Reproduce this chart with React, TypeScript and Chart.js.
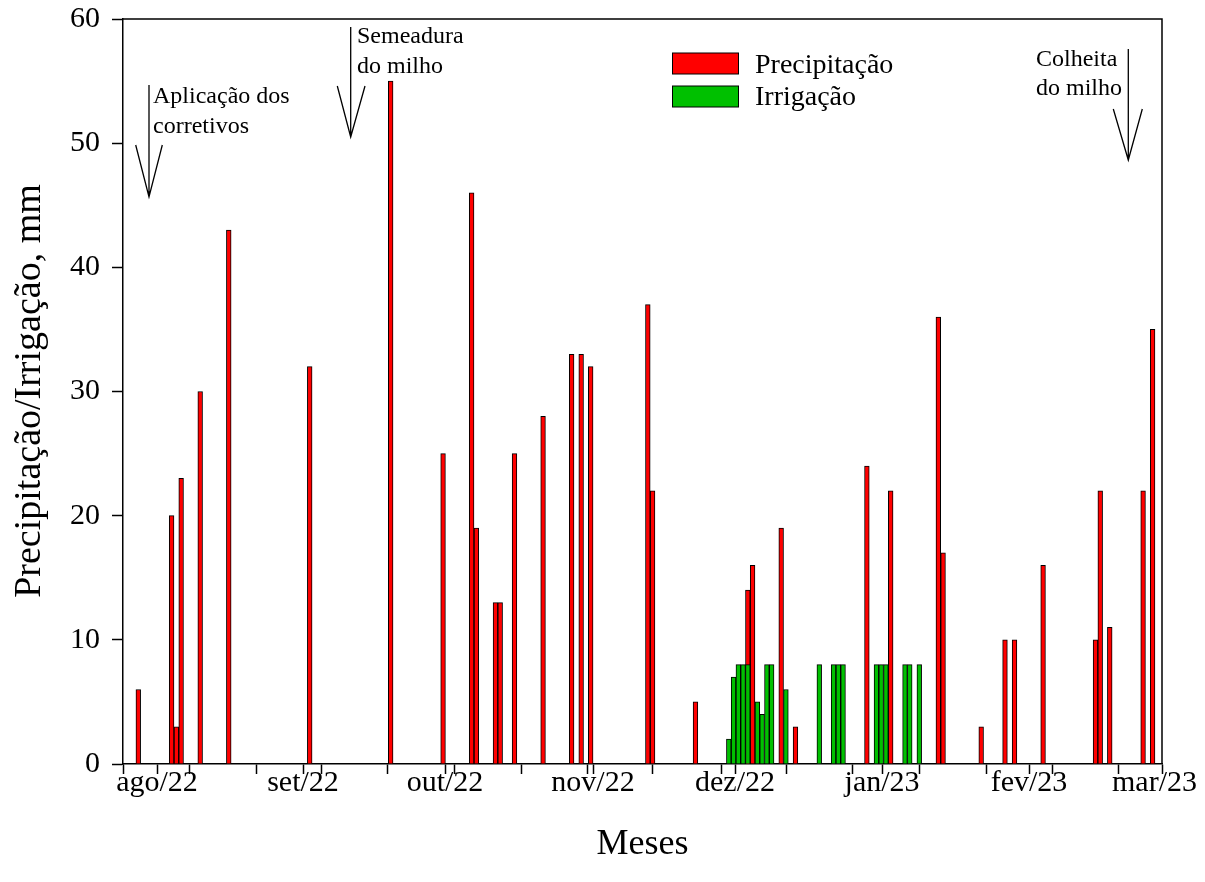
import React, { useEffect, useRef } from "react";
import { Chart, registerables } from "chart.js";

Chart.register(...registerables);

// Day index (bar position) and values
const precipDays = [-4, 3, 4, 5, 9, 15, 32, 49, 60, 66, 67, 71, 72, 75, 81, 87, 89, 91, 103, 104, 113, 124, 125, 131, 134, 149, 154, 164, 165, 173, 178, 180, 186, 197, 198, 200, 207, 209];
const precipValues = [6, 20, 3, 23, 30, 43, 32, 55, 25, 46, 19, 13, 13, 25, 28, 33, 33, 32, 37, 22, 5, 14, 16, 19, 3, 24, 22, 36, 17, 3, 10, 10, 16, 10, 22, 11, 22, 35];

const irrigDays = [120, 121, 122, 123, 124, 126, 127, 128, 129, 132, 139, 142, 143, 144, 151, 152, 153, 157, 158, 160];
const irrigValues = [2, 7, 8, 8, 8, 5, 4, 8, 8, 6, 8, 8, 8, 8, 8, 8, 8, 8, 8, 8];

const monthLabels = ["ago/22", "set/22", "out/22", "nov/22", "dez/22", "jan/23", "fev/23", "mar/23  "];
const monthTicks = [-0.07, 30.59, 60.41, 91.49, 121.31, 152.18, 183.05, 210.97];
const minorTicks = [-7.21, 6.85, 20.92, 34.57, 48.43, 62.5, 76.57, 90.43, 104.08, 118.57, 132.22, 146.08, 160.15, 174.22, 188.08, 201.94];

const X_MIN = -7.21;
const X_MAX = 210.97;

const FONT = '"Liberation Serif", "Times New Roman", Times, serif';

const overlayPlugin = {
  id: "overlay",
  afterDraw(chart: any) {
    const ctx = chart.ctx as CanvasRenderingContext2D;
    const { left, right, top, bottom } = chart.chartArea;
    ctx.save();
    // frame
    ctx.strokeStyle = "#000";
    ctx.lineWidth = 1.5;
    ctx.beginPath();
    ctx.moveTo(left, top);
    ctx.lineTo(right, top);
    ctx.lineTo(right, bottom);
    ctx.stroke();

    // legend
    ctx.lineWidth = 1;
    ctx.fillStyle = "#FF0000";
    ctx.fillRect(672.5, 53, 66, 21);
    ctx.strokeRect(672.5, 53, 66, 21);
    ctx.fillStyle = "#00C000";
    ctx.fillRect(672.5, 86, 66, 21);
    ctx.strokeRect(672.5, 86, 66, 21);
    ctx.fillStyle = "#000";
    ctx.font = `28px ${FONT}`;
    ctx.textAlign = "left";
    ctx.textBaseline = "alphabetic";
    ctx.fillText("Precipitação", 755, 73);
    ctx.fillText("Irrigação", 755, 105);

    // annotations
    ctx.font = `24px ${FONT}`;
    ctx.fillText("Aplicação dos", 153, 103);
    ctx.fillText("corretivos", 153, 133);
    ctx.fillText("Semeadura", 357, 43);
    ctx.fillText("do milho", 357, 73);
    ctx.fillText("Colheita", 1036, 66);
    ctx.fillText("do milho", 1036, 95);

    const arrow = (x: number, y1: number, y2: number, hx1: number, hx2: number, hy: number) => {
      ctx.beginPath();
      ctx.moveTo(x, y1);
      ctx.lineTo(x, y2);
      ctx.moveTo(hx1, hy);
      ctx.lineTo(x, y2);
      ctx.lineTo(hx2, hy);
      ctx.stroke();
    };
    ctx.lineWidth = 1.3;
    arrow(149, 85, 197, 135.7, 162.3, 145);
    arrow(350.7, 27, 137, 337.3, 365, 86);
    arrow(1128.3, 49, 160, 1113.3, 1142.3, 109);

    // axis titles
    ctx.textAlign = "center";
    ctx.font = `36px ${FONT}`;
    ctx.fillText("Meses", (left + right) / 2, 854);
    ctx.font = `38px ${FONT}`;
    ctx.translate(40, 391);
    ctx.rotate(-Math.PI / 2);
    ctx.fillText("Precipitação/Irrigação, mm", 0, 0);
    ctx.restore();
  },
};

export default function App() {
  const ref = useRef<HTMLCanvasElement | null>(null);

  useEffect(() => {
    if (!ref.current) return;
    const chart = new Chart(ref.current, {
      type: "bar",
      data: {
        datasets: [
          {
            label: "Precipitação",
            data: precipDays.map((d, i) => ({ x: d, y: precipValues[i] })),
            backgroundColor: "#FF0000",
            borderColor: "#000",
            borderWidth: 1,
            barThickness: 4.7,
            grouped: false,
            order: 1,
          } as any,
          {
            label: "Irrigação",
            data: irrigDays.map((d, i) => ({ x: d, y: irrigValues[i] })),
            backgroundColor: "#00C000",
            borderColor: "#000",
            borderWidth: 1,
            barThickness: 4.7,
            grouped: false,
            order: 0,
          } as any,
        ],
      },
      options: {
        animation: false,
        responsive: false,
        maintainAspectRatio: false,
        layout: { padding: { left: 0, top: 19, right: 43, bottom: 0 } },
        plugins: { legend: { display: false }, tooltip: { enabled: false } },
        scales: {
          x: {
            type: "linear",
            min: X_MIN,
            max: X_MAX,
            offset: false,
            grid: { offset: false, drawOnChartArea: false, drawTicks: true, tickLength: 10, color: "#000", tickWidth: 1.5 },
            border: { display: true, color: "#000", width: 1.5 },
            ticks: {
              autoSkip: false,
              maxRotation: 0,
              minRotation: 0,
              color: "#000",
              padding: -9,
              font: { family: FONT, size: 30 },
              callback: (v: any) => {
                const idx = monthTicks.findIndex((m) => Math.abs(m - Number(v)) < 1e-6);
                return idx >= 0 ? monthLabels[idx] : "";
              },
            },
            afterBuildTicks: (scale: any) => {
              const vals = [...monthTicks, ...minorTicks].sort((a, b) => a - b);
              scale.ticks = vals.map((v) => ({ value: v }));
            },
            afterFit: (scale: any) => {
              scale.height = 882 - 764;
              scale.paddingLeft = 0;
              scale.paddingRight = 0;
            },
          } as any,
          y: {
            min: 0,
            max: 60,
            grid: { drawOnChartArea: false, drawTicks: true, tickLength: 11, color: "#000", tickWidth: 1.5 },
            border: { display: true, color: "#000", width: 1.5 },
            ticks: {
              stepSize: 10,
              color: "#000",
              padding: 12,
              font: { family: FONT, size: 30 },
            },
            afterFit: (scale: any) => {
              scale.width = 123;
              scale.paddingTop = 0;
              scale.paddingBottom = 0;
            },
          } as any,
        },
      },
      plugins: [overlayPlugin],
    });
    return () => chart.destroy();
  }, []);

  return (
    <div style={{ position: "absolute", left: 0, top: 0, width: 1205, height: 882, background: "#fff" }}>
      <canvas ref={ref} width={1205} height={882} style={{ display: "block" }} />
    </div>
  );
}
